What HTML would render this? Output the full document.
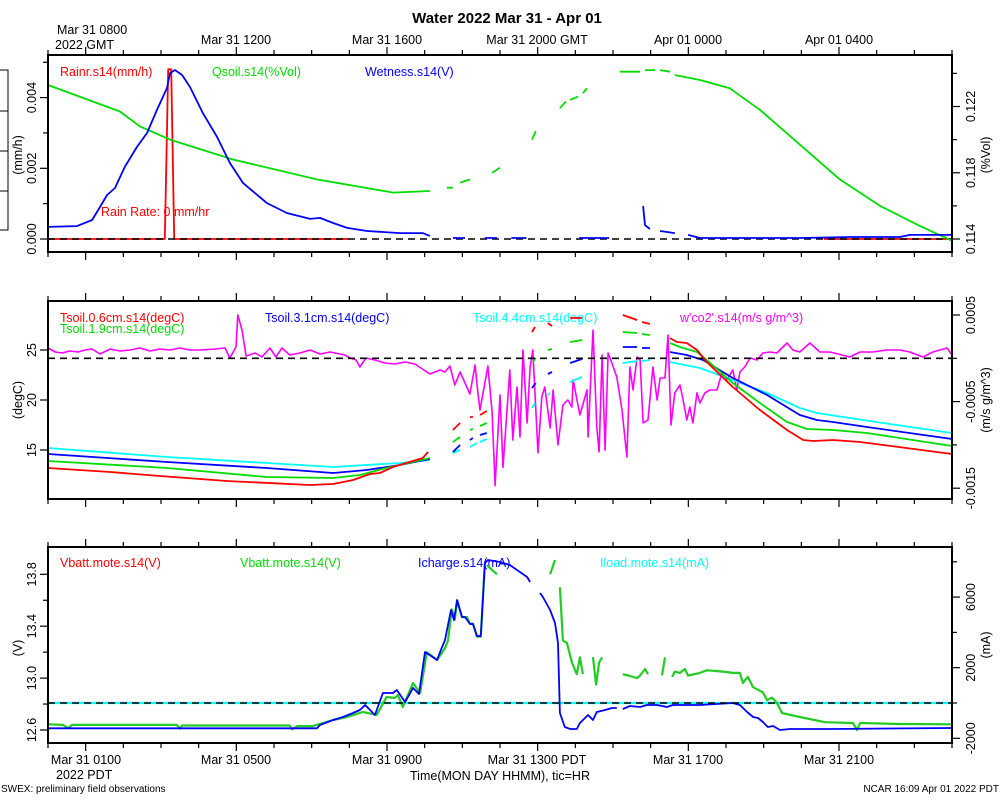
<!DOCTYPE html>
<html><head><meta charset="utf-8"><style>
body{margin:0;background:#fff;}
svg{display:block;font-family:"Liberation Sans",sans-serif;}
</style></head><body>
<svg id="chart" width="1000" height="800" viewBox="0 0 1000 800">
<rect x="0" y="0" width="1000" height="800" fill="#fff"/>
<text x="507" y="23" text-anchor="middle" font-size="15" font-weight="bold">Water 2022 Mar 31 - Apr 01</text>
<g font-size="12.5" fill="#000">
<text x="57" y="34">Mar 31 0800</text>
<text x="55" y="49">2022 GMT</text>
<text x="236" y="44" text-anchor="middle">Mar 31 1200</text>
<text x="387" y="44" text-anchor="middle">Mar 31 1600</text>
<text x="537" y="44" text-anchor="middle">Mar 31 2000 GMT</text>
<text x="688" y="44" text-anchor="middle">Apr 01 0000</text>
<text x="839" y="44" text-anchor="middle">Apr 01 0400</text>
<text x="86" y="764" text-anchor="middle">Mar 31 0100</text>
<text x="56" y="779">2022 PDT</text>
<text x="236" y="764" text-anchor="middle">Mar 31 0500</text>
<text x="387" y="764" text-anchor="middle">Mar 31 0900</text>
<text x="537" y="764" text-anchor="middle">Mar 31 1300 PDT</text>
<text x="688" y="764" text-anchor="middle">Mar 31 1700</text>
<text x="839" y="764" text-anchor="middle">Mar 31 2100</text>
<text x="500" y="780" text-anchor="middle">Time(MON DAY HHMM), tic=HR</text>
</g>
<text x="1" y="792" font-size="10">SWEX: preliminary field observations</text>
<text x="999" y="792" font-size="10" text-anchor="end">NCAR 16:09 Apr 01 2022 PDT</text>
<path d="M0 70H8V230H0M8 111H0M8 151H0M8 191H0" fill="none" stroke="#000" stroke-width="1"/>
<g font-size="12.5">
<text x="60" y="76" fill="#f00">Rainr.s14(mm/h)</text>
<text x="212" y="76" fill="#0d0">Qsoil.s14(%Vol)</text>
<text x="365" y="76" fill="#00f">Wetness.s14(V)</text>
<text x="101" y="216" fill="#f00">Rain Rate: 0 mm/hr</text>
<text x="60" y="322" fill="#f00">Tsoil.0.6cm.s14(degC)</text>
<text x="60" y="333" fill="#0d0">Tsoil.1.9cm.s14(degC)</text>
<text x="265" y="322" fill="#00f">Tsoil.3.1cm.s14(degC)</text>
<text x="473" y="322" fill="#0ff">Tsoil.4.4cm.s14(degC)</text>
<text x="680" y="322" fill="#f0f">w'co2'.s14(m/s g/m^3)</text>
<text x="60" y="567" fill="#f00">Vbatt.mote.s14(V)</text>
<text x="240" y="567" fill="#0d0">Vbatt.mote.s14(V)</text>
<text x="418" y="567" fill="#00f">Icharge.s14(mA)</text>
<text x="600" y="567" fill="#0ff">Iload.mote.s14(mA)</text>
</g>
</svg>
<script>
// ---------- data ----------
const rainTimes = [0, 3.1, 3.19, 3.27, 3.35, 8.0, null, 20.6, 24];
const rainValues = [0, 0, 0.0048, 0.0048, 0, 0, null, 0, 0];
const qsoilTimes = [0,1.91,2.44,3.24,4.91,7.14,9.16,10.14,null,10.59,10.75,null,10.94,11.2,null,11.79,12.0,null,12.85,12.95,null,13.59,13.75,null,13.86,14.07,null,14.2,14.31,null,15.18,15.72,null,15.85,16.12,null,16.25,16.51,null,16.64,17.31,18.1,18.9,19.96,21.02,22.09,23.14,24];
const qsoilValues = [0.1233,0.1217,0.1208,0.1200,0.1188,0.1176,0.1168,0.1169,null,0.1171,0.1171,null,0.1174,0.1176,null,0.1180,0.1183,null,0.1200,0.1205,null,0.1219,0.1223,null,0.1224,0.1226,null,0.1228,0.1231,null,0.1241,0.1241,null,0.1242,0.1242,null,0.1242,0.1241,null,0.1239,0.1236,0.1231,0.1218,0.1197,0.1176,0.1160,0.1148,0.1139];
const wetTimes = [0,0.77,1.17,1.38,1.57,1.78,2.04,2.36,2.63,2.89,3.16,3.24,3.37,3.56,3.77,4.11,4.49,4.83,5.18,5.81,6.34,6.96,7.22,7.57,7.94,8.47,9.34,9.95,10.14,null,10.75,11.07,null,11.6,11.92,null,12.3,12.7,null,14.1,14.9,null,15.8,15.85,15.98,null,16.25,16.64,null,16.99,17.31,18.64,19.96,21.29,22.62,22.88,24];
const wetValues = [0.071,0.076,0.112,0.188,0.259,0.3,0.424,0.541,0.624,0.759,0.888,0.976,0.994,0.965,0.894,0.741,0.6,0.447,0.329,0.212,0.153,0.118,0.124,0.094,0.065,0.047,0.035,0.035,0.018,null,0.006,0.006,null,0.006,0.006,null,0.006,0.006,null,0.006,0.006,null,0.194,0.082,0.059,null,0.047,0.035,null,0.024,0.006,0.006,0.006,0.012,0.012,0.024,0.024];

const t06Times = [0,1.65,2.97,4.75,6.96,7.57,8.10,8.55,8.81,9.16,9.95,10.09,null,10.75,10.94,null,11.2,11.28,null,11.47,11.65,null,12.85,12.93,null,13.27,13.38,null,13.86,14.18,null,15.26,15.64,null,15.77,15.98,null,16.51,16.7,16.96,17.23,17.49,18.18,18.9,19.62,20.05,20.31,20.84,21.56,22.17,24];
const t06Values = [13.2,12.8,12.4,11.9,11.5,11.6,12.0,12.6,12.7,13.3,14.2,14.8,null,17.0,17.7,null,18.3,18.3,null,18.5,18.9,null,26.8,27.3,null,27.7,27.4,null,28.2,28.2,null,28.5,28.0,null,27.8,27.6,null,26.2,25.8,25.7,25.0,23.8,21.3,19.0,17.0,16.0,15.9,16.0,15.8,15.5,14.6];
const t19Times = [0,3.16,5.81,7.57,8.28,8.99,10.14,null,10.75,10.94,null,11.2,11.28,null,11.47,11.65,null,12.87,12.95,null,13.27,13.38,null,13.86,14.18,null,15.26,15.64,null,15.77,15.98,null,16.51,16.78,17.23,17.49,18.18,18.9,19.62,20.15,20.84,21.74,24];
const t19Values = [13.9,13.2,12.3,12.2,12.5,13.2,14.2,null,15.8,16.3,null,17.0,17.1,null,17.4,17.7,null,23.8,24.2,null,25.0,25.1,null,25.8,26.0,null,26.8,26.7,null,26.6,26.5,null,25.7,25.3,24.8,24.0,21.7,19.7,17.8,17.1,17.0,16.7,15.4];
const t31Times = [0,3.16,5.81,7.57,8.47,9.34,10.14,null,10.75,10.94,null,11.2,11.28,null,11.47,11.65,null,12.85,12.95,null,13.27,13.38,null,13.86,14.18,null,15.26,15.64,null,15.77,15.98,null,16.51,16.96,17.39,18.18,19.09,19.96,20.41,20.84,21.74,24];
const t31Values = [14.6,13.8,13.2,12.7,13.0,13.5,14.1,null,14.8,15.5,null,16.0,16.2,null,16.5,16.7,null,21.2,21.7,null,22.6,22.8,null,23.7,24.1,null,25.3,25.3,null,25.2,25.2,null,24.8,24.5,24.0,22.2,20.5,18.5,18.0,17.8,17.3,16.1];
const t44Times = [0,3.16,5.81,7.57,9.34,10.14,null,10.75,10.94,null,11.2,11.39,null,11.47,11.65,null,12.85,12.93,null,13.27,13.33,null,13.86,14.18,null,15.26,15.64,null,15.77,15.98,null,16.51,17.31,18.18,19.09,19.96,20.41,21.29,22.17,24];
const t44Values = [15.2,14.3,13.7,13.3,13.7,14.0,null,14.7,15.0,null,15.3,15.7,null,15.8,16.1,null,19.2,19.7,null,20.5,20.7,null,21.8,22.3,null,23.7,23.9,null,23.9,24.0,null,23.8,23.2,22.0,20.7,19.2,18.7,18.2,17.7,16.7];
// w'co2' flux in units of 1e-4 m/s g/m^3
const co2Times = [0,0.19,0.37,0.58,0.80,0.98,1.17,1.38,1.65,1.91,2.18,2.44,2.71,2.97,3.24,3.50,3.77,4.04,4.43,4.70,4.83,4.99,5.04,5.15,5.26,5.50,5.68,5.89,6.05,6.21,6.42,6.69,6.96,7.22,7.49,7.88,8.02,8.18,8.28,8.44,8.68,8.95,9.21,9.48,9.74,10.14,10.41,10.54,10.67,10.80,10.94,11.07,11.20,11.34,11.41,11.47,11.68,11.79,11.87,12.0,12.08,12.26,12.34,12.45,12.53,12.61,12.72,12.80,12.87,13.01,13.11,13.19,13.33,13.41,13.54,13.67,13.80,13.91,13.94,14.12,14.31,14.34,14.47,14.57,14.63,14.71,14.79,14.87,14.97,15.10,15.24,15.37,15.45,15.53,15.64,15.72,15.80,15.93,16.06,16.17,16.25,16.38,16.46,16.54,16.64,16.78,16.86,16.96,17.04,17.12,17.23,17.31,17.44,17.57,17.76,17.89,18.02,18.18,18.29,18.37,18.50,18.64,18.82,18.98,19.17,19.35,19.62,19.78,19.96,20.23,20.49,20.76,21.29,21.56,21.90,22.27,22.62,22.88,23.23,23.49,23.87,24.0];
const co2Values = [1.19,0.73,0.61,0.84,0.73,0.96,1.07,0.50,1.07,0.84,0.96,1.19,0.84,1.07,0.96,1.19,0.96,0.96,1.07,1.19,0.03,1.30,5.0,3.27,0.27,0.61,0.15,1.19,0.15,1.19,0.38,0.61,0.96,0.50,0.73,0.38,0.03,-0.20,-1.0,0.03,-0.20,-0.54,-0.66,-0.43,-0.66,-1.81,-1.35,-1.58,-0.89,-3.08,-1.58,-2.85,-4.12,-0.77,-3.89,-5.97,-0.89,-6.2,-14.7,-4.23,-12.6,-1.35,-9.43,-3.31,-9.09,0.96,-7.47,-1.0,0.96,-10.9,-4.47,-3.31,-8.05,-3.66,-10.0,-5.39,-4.81,-5.62,-2.50,-6.55,-3.66,-9.09,3.27,-7.93,-10.8,0.38,-10.6,0.61,-0.54,-2.16,-5.97,-11.4,-1.0,-3.66,0.15,-0.20,-7.47,-7.12,-1.0,-4.81,-2.27,-2.27,2.69,-7.70,-4.0,-3.08,-4.81,-7.12,-5.62,-7.47,-4.0,-5.16,-4.0,-3.66,-3.66,-1.70,-2.50,-1.35,-3.66,-1.58,-1.0,0.03,-0.20,0.61,0.73,0.61,1.77,0.96,0.73,1.77,0.73,0.73,0.15,0.73,0.73,0.96,0.96,0.73,0.15,0.73,1.19,0.38];

const vbattTimes = [0,0.4,0.53,0.64,3.42,3.50,3.56,6.42,6.48,6.61,7.03,7.30,7.57,7.94,8.36,8.73,8.99,9.21,9.29,9.42,9.69,9.88,10.06,10.33,10.54,10.62,10.72,10.80,10.86,10.99,11.12,11.20,11.28,11.39,11.49,11.60,null,11.65,11.92,null,13.33,13.46,null,13.59,13.67,13.78,13.91,14.04,14.12,14.2,null,14.47,14.55,14.63,14.71,null,15.26,15.40,15.64,15.72,15.85,15.93,null,16.30,16.38,null,16.57,16.64,16.78,16.91,16.99,17.31,17.49,17.92,18.18,18.37,18.45,18.58,18.72,18.85,18.98,19.09,19.22,19.35,19.49,19.96,20.63,21.37,21.48,21.56,22.62,24];
const vbattValues = [12.644,12.639,12.615,12.639,12.639,12.61,12.635,12.635,12.605,12.63,12.63,12.654,12.677,12.70,12.739,12.716,12.854,12.847,12.87,12.777,12.962,12.885,13.20,13.14,13.23,13.29,13.53,13.45,13.60,13.47,13.47,13.42,13.42,13.32,13.32,13.89,null,13.87,13.80,null,13.80,13.91,null,13.70,13.29,13.27,13.12,13.03,13.16,13.03,null,13.16,12.95,13.12,13.16,null,13.03,13.02,13.0,13.02,13.07,13.03,null,13.02,13.16,null,13.01,13.05,13.04,13.07,13.02,13.04,13.06,13.05,13.04,13.04,12.962,13.01,12.93,12.91,12.89,12.83,12.85,12.81,12.73,12.70,12.66,12.654,12.6,12.654,12.646,12.644];
const ichargeTimes = [0,7.14,7.22,7.57,7.83,8.10,8.28,8.42,8.68,8.89,9.16,9.26,9.48,9.69,9.85,10.01,10.33,10.41,10.54,10.70,10.78,10.86,10.99,11.07,11.20,11.28,11.39,11.49,11.60,11.68,12.0,12.26,12.45,12.72,12.80,null,13.06,13.14,13.33,13.46,13.54,13.59,13.72,13.86,14.04,14.12,14.34,14.47,14.57,14.79,14.97,15.10,null,15.26,15.45,15.72,15.90,16.17,16.43,16.59,17.31,18.18,18.37,18.56,18.72,18.85,18.98,19.11,19.25,19.43,19.70,20.84,24];
const ichargeValues = [-1435,-1435,-1245,-963,-793,-567,-397,-113,-680,567,567,737,57,850,510,2890,2436,2890,3570,5270,4703,5836,4873,4873,4476,4476,3796,3796,7932,8102,7990,7820,7536,7140,6856,null,6233,6006,5270,4533,3400,-567,-1360,-1473,-1473,-1133,-680,-963,-510,-397,-283,-283,null,-340,-170,-227,-113,-113,-227,-113,-113,0,-113,-510,-793,-850,-1077,-1360,-1303,-1530,-1473,-1473,-1417];
const iloadTimes = [0, 24];
const iloadValues = [0, 0];

// tick arrays
const hourTicks = [0,1,2,3,4,5,6,7,8,9,10,11,12,13,14,15,16,17,18,19,20,21,22,23,24];
const majorHours = [1,5,9,13,17,21];
const rainTickMajor = [0, 0.002, 0.004];
const rainTickMinor = [0.001, 0.003, 0.005];
const rainTickLabels = ["0.000","0.002","0.004"];
const qsoilTickMajor = [0.114, 0.118, 0.122];
const qsoilTickMinor = [0.116, 0.120, 0.124];
const qsoilTickLabels = ["0.114","0.118","0.122"];
const tempTickMajor = [15, 20, 25];
const tempTickLabels = ["15","20","25"];
const co2TickMajor = [5, -5, -15];
const co2TickMinor = [0, -10];
const co2TickLabels = ["0.0005","-0.0005","-0.0015"];
const voltTickMajor = [12.6, 13.0, 13.4, 13.8];
const voltTickMinor = [12.8, 13.2, 13.6];
const voltTickLabels = ["12.6","13.0","13.4","13.8"];
const mATickMajor = [-2000, 2000, 6000];
const mATickMinor = [0, 4000, 8000];
const mATickLabels = ["-2000","2000","6000"];

// ---------- scales ----------
const X0 = 48, X1 = 952;
const xS = h => X0 + h * (X1 - X0) / 24;
const yRain = v => 239 - v / 0.002 * 70.7;
const yQ = v => 239 - (v - 0.114) / 0.008 * 132.5;
const yW = v => 239 - v * 170;
const yT = t => 350 - (t - 25) * 10;
const yC = v => 358.3 - v / 5 * 43.3;
const yV = v => 730 - (v - 12.6) / 1.2 * 155.7;
const yI = v => 703 - v / 2000 * 35.3;

const svg = document.getElementById('chart');
const NS = 'http://www.w3.org/2000/svg';
function mk(tag, attrs) {
  const el = document.createElementNS(NS, tag);
  for (const k in attrs) el.setAttribute(k, attrs[k]);
  svg.appendChild(el);
  return el;
}
function series(times, vals, yf, color, name, w) {
  let d = '', pen = false;
  for (let i = 0; i < times.length; i++) {
    if (times[i] === null || vals[i] === null) { pen = false; continue; }
    d += (pen ? 'L' : 'M') + xS(times[i]).toFixed(1) + ' ' + yf(vals[i]).toFixed(1);
    pen = true;
  }
  const p = mk('path', {d: d, fill: 'none', stroke: color, 'stroke-width': w || 1.8, 'stroke-linejoin': 'round'});
  
  
  return p;
}
function dashed(y, name) {
  const l = mk('line', {x1: X0, x2: X1, y1: y, y2: y, stroke: '#000', 'stroke-width': 1.6, 'stroke-dasharray': '7 5'});
  
  
}
function frame(top, bot, name) {
  const r = mk('rect', {x: X0, y: top, width: X1 - X0, height: bot - top, fill: 'none', stroke: '#000', 'stroke-width': 2});
  
  
  hourTicks.forEach(h => {
    const len = majorHours.includes(h) ? 8 : 5;
    const t1 = mk('line', {x1: xS(h), x2: xS(h), y1: top, y2: top - len, stroke: '#000', 'stroke-width': 1.2});
    
    
    const t2 = mk('line', {x1: xS(h), x2: xS(h), y1: bot, y2: bot + len, stroke: '#000', 'stroke-width': 1.2});
    
    
  });
}
function yAxis(side, yf, majors, minors, labels, title, tcy, name) {
  const x = side === 'left' ? X0 : X1;
  const dir = side === 'left' ? -1 : 1;
  majors.forEach((v, i) => {
    const y = yf(v);
    const t = mk('line', {x1: x, x2: x + dir * 8, y1: y, y2: y, stroke: '#000', 'stroke-width': 1.2});
    
    
    const lx = side === 'left' ? 36 : 975;
    const tx = mk('text', {x: lx, y: y, 'text-anchor': 'middle', 'font-size': 12.5, transform: 'rotate(-90 ' + lx + ' ' + y + ')'});
    tx.textContent = labels[i];
    
    
  });
  minors.forEach(v => {
    const y = yf(v);
    const t = mk('line', {x1: x, x2: x + dir * 5, y1: y, y2: y, stroke: '#000', 'stroke-width': 1.2});
    
    
  });
  const ax = side === 'left' ? 22 : 990;
  const tt = mk('text', {x: ax, y: tcy, 'text-anchor': 'middle', 'font-size': 12.5, transform: 'rotate(-90 ' + ax + ' ' + tcy + ')'});
  tt.textContent = title;
  
  
}

// panel 1
series(rainTimes, rainValues, yRain, '#f00', 'rainr-line');
dashed(239, 'zero-line-panel1');
series(qsoilTimes, qsoilValues, yQ, '#0d0', 'qsoil-line');
series(wetTimes, wetValues, yW, '#00f', 'wetness-line');
frame(55, 252, 'panel1-frame');
yAxis('left', yRain, rainTickMajor, rainTickMinor, rainTickLabels, '(mm/h)', 155, 'rain-axis');
yAxis('right', yQ, qsoilTickMajor, qsoilTickMinor, qsoilTickLabels, '(%Vol)', 155, 'qsoil-axis');

// panel 2
series(co2Times, co2Values, yC, '#f0f', 'wco2-line', 1.6);
series(t44Times, t44Values, yT, '#0ff', 'tsoil-4-4-line');
series(t31Times, t31Values, yT, '#00f', 'tsoil-3-1-line');
series(t19Times, t19Values, yT, '#0d0', 'tsoil-1-9-line');
series(t06Times, t06Values, yT, '#f00', 'tsoil-0-6-line');
dashed(358.3, 'zero-line-panel2');
frame(301, 499, 'panel2-frame');
yAxis('left', yT, tempTickMajor, [], tempTickLabels, '(degC)', 400, 'temp-axis');
yAxis('right', yC, co2TickMajor, co2TickMinor, co2TickLabels, '(m/s g/m^3)', 400, 'co2-axis');

// panel 3
series(iloadTimes, iloadValues, yI, '#0ff', 'iload-line', 2.2);
series(vbattTimes, vbattValues, yV, '#2c2', 'vbatt-line', 2.2);
series(ichargeTimes, ichargeValues, yI, '#00f', 'icharge-line');
dashed(703, 'zero-line-panel3');
frame(547, 743, 'panel3-frame');
yAxis('left', yV, voltTickMajor, voltTickMinor, voltTickLabels, '(V)', 648, 'volt-axis');
yAxis('right', yI, mATickMajor, mATickMinor, mATickLabels, '(mA)', 645, 'current-axis');
</script>
</body></html>
